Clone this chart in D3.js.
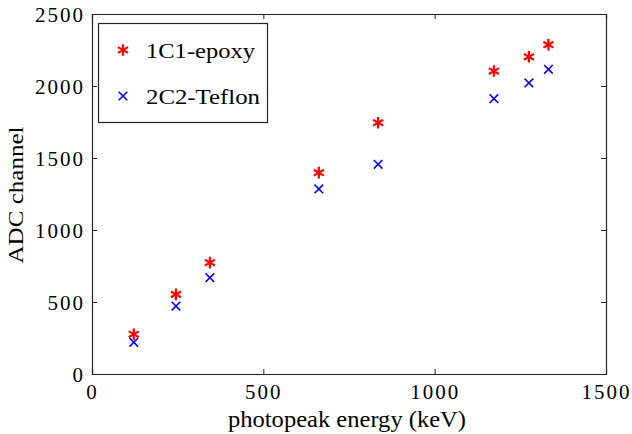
<!DOCTYPE html>
<html>
<head>
    <meta charset="utf-8">
    <script src="https://d3js.org/d3.v7.min.js"></script>
    <style>
        body { margin: 0; background: #fff; }
    </style>
</head>
<body>
    <script>
        // photopeak energies (keV) and ADC channels
        const energies = [122, 245, 344, 662, 835, 1173, 1275, 1332];
        const epoxy = [276, 553, 773, 1398, 1745, 2104, 2203, 2287];
        const teflon = [220, 472, 669, 1285, 1456, 1912, 2021, 2116];
        const xTicks = [0, 500, 1000, 1500];
        const yTicks = [0, 500, 1000, 1500, 2000, 2500];

        const serif = "Liberation Serif";
        const width = 632, height = 434;
        const margin = { left: 92, right: 26, top: 14, bottom: 60 };

        const svg = d3.select("body").append("svg")
            .attr("width", width)
            .attr("height", height);

        const x = d3.scaleLinear().domain([0, 1500]).range([margin.left, width - margin.right]);
        const y = d3.scaleLinear().domain([0, 2500]).range([height - margin.bottom, margin.top]);

        const tickLen = 5;
        const fmt = d3.format("d");

        // bottom axis
        const gx = svg.append("g")
            .attr("transform", `translate(0,${y(0)})`)
            .call(d3.axisBottom(x).tickValues(xTicks).tickSize(-tickLen).tickPadding(10).tickFormat(fmt));
        // left axis
        const gy = svg.append("g")
            .attr("transform", `translate(${x(0)},0)`)
            .call(d3.axisLeft(y).tickValues(yTicks).tickSize(-tickLen).tickPadding(7).tickFormat(fmt));
        // top and right mirrored ticks
        const gt = svg.append("g")
            .attr("transform", `translate(0,${y(2500)})`)
            .call(d3.axisTop(x).tickValues(xTicks).tickSize(-tickLen).tickFormat(""));
        const gr = svg.append("g")
            .attr("transform", `translate(${x(1500)},0)`)
            .call(d3.axisRight(y).tickValues(yTicks).tickSize(-tickLen).tickFormat(""));

        [gx, gy, gt, gr].forEach(g => {
            g.attr("font-size", 21);
            g.select(".domain").attr("stroke", "#222").attr("stroke-width", 1.2);
            g.selectAll(".tick line").attr("stroke", "#222");
            g.selectAll(".tick text").attr("fill", "#000").style("letter-spacing", "2px");
        });
        gy.selectAll(".tick text").attr("dy", "0.34em");

        // axis labels
        svg.append("text")
            .attr("x", 347)
            .attr("y", 427)
            .attr("text-anchor", "middle")
            .attr("textLength", 238)
            .attr("lengthAdjust", "spacingAndGlyphs")
            .style("font-size", "24px")
            .text("photopeak energy (keV)");

        svg.append("text")
            .attr("transform", "translate(23,195) rotate(-90)")
            .attr("text-anchor", "middle")
            .attr("textLength", 137)
            .attr("lengthAdjust", "spacingAndGlyphs")
            .style("font-size", "22px")
            .text("ADC channel");

        // markers
        const star = d3.symbol().type(d3.symbolAsterisk).size(95);
        const cross = d3.symbol().type(d3.symbolX).size(50);

        svg.append("g").selectAll("path")
            .data(energies.map((e, i) => [e, epoxy[i]]))
            .enter().append("path")
            .attr("d", star)
            .attr("transform", d => `translate(${x(d[0])},${y(d[1])})`)
            .attr("fill", "none")
            .attr("stroke", "#ff0000")
            .attr("stroke-width", 2.2);

        svg.append("g").selectAll("path")
            .data(energies.map((e, i) => [e, teflon[i]]))
            .enter().append("path")
            .attr("d", cross)
            .attr("transform", d => `translate(${x(d[0])},${y(d[1])})`)
            .attr("fill", "none")
            .attr("stroke", "#0000ff")
            .attr("stroke-width", 1.6);

        // legend
        const legend = svg.append("g");
        legend.append("rect")
            .attr("x", 98.5).attr("y", 23.5)
            .attr("width", 169).attr("height", 99)
            .attr("fill", "#fff")
            .attr("stroke", "#222")
            .attr("stroke-width", 1.2);

        const entries = [
            { label: "1C1-epoxy", sym: star, color: "#ff0000", w: 2.2, yy: 50, len: 109 },
            { label: "2C2-Teflon", sym: cross, color: "#0000ff", w: 1.6, yy: 96, len: 114 }
        ];
        entries.forEach(d => {
            legend.append("path")
                .attr("d", d.sym)
                .attr("transform", `translate(123,${d.yy})`)
                .attr("fill", "none")
                .attr("stroke", d.color)
                .attr("stroke-width", d.w);
            legend.append("text")
                .attr("x", 146)
                .attr("y", d.yy + 7.5)
                .attr("textLength", d.len)
                .attr("lengthAdjust", "spacingAndGlyphs")
                .style("font-size", "21px")
                .text(d.label);
        });

        // serif face on every text, including axis tick labels
        svg.selectAll("text").style("font-family", serif);
    </script>
</body>
</html>
